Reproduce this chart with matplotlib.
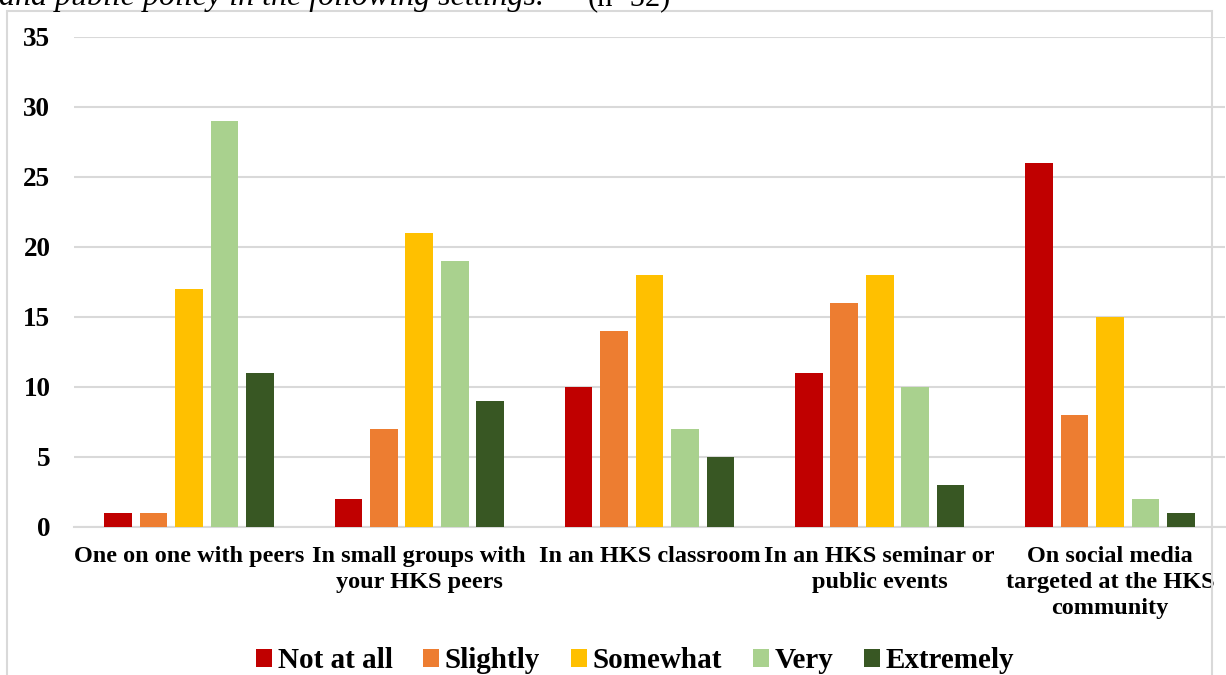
import numpy as np
import matplotlib
matplotlib.use('Agg')
import matplotlib.pyplot as plt
from matplotlib.patches import Rectangle

plt.rcParams['font.family'] = ['Liberation Serif', 'DejaVu Serif']

settings = ['One on one with peers',
            'In small groups with\nyour HKS peers',
            'In an HKS classroom',
            'In an HKS seminar or\npublic events',
            'On social media\ntargeted at the HKS\ncommunity']
levels = ['Not at all', 'Slightly', 'Somewhat', 'Very', 'Extremely']
not_at_all = [1, 2, 10, 11, 26]
slightly = [1, 7, 14, 16, 8]
somewhat = [17, 21, 18, 18, 15]
very = [29, 19, 7, 10, 2]
extremely = [11, 9, 5, 3, 1]
series = [not_at_all, slightly, somewhat, very, extremely]
colors = ['#C00000', '#ED7D31', '#FFC000', '#A9D18E', '#385723']
yticks = [0, 5, 10, 15, 20, 25, 30, 35]

W, H = 1226, 675
fig = plt.figure(figsize=(W / 100, H / 100), dpi=100)
ax = fig.add_axes([74 / W, 1 - 527 / H, (1225 - 74) / W, (527 - 37) / H])

x = np.arange(len(settings))
step = 0.154
width = 0.12
for i, (vals, lab, col) in enumerate(zip(series, levels, colors)):
    ax.bar(x + (i - 2) * step, vals, width, color=col, label=lab, zorder=3)

ax.set_xlim(-0.5, 4.5)
ax.set_ylim(0, 35)
ax.set_yticks(yticks)
ax.set_xticks(x)
ax.set_xticklabels(settings, fontsize=17.5, fontweight='bold', linespacing=1.3)
ax.tick_params(axis='x', length=0, pad=14)
ax.tick_params(axis='y', length=0, pad=17, labelsize=19.5)
for t in ax.get_yticklabels():
    t.set_fontweight('bold')
ax.grid(axis='y', color='#D9D9D9', linewidth=1.5, zorder=0)
ax.set_axisbelow(True)
for s in ['top', 'right', 'left']:
    ax.spines[s].set_visible(False)
ax.spines['bottom'].set_color('#D9D9D9')
ax.spines['bottom'].set_linewidth(1.5)

# chart border (cut off at the bottom of the page crop)
fig.patches.append(Rectangle((7 / W, -0.05), (1212 - 7) / W, 1.05 - 11 / H,
                             transform=fig.transFigure, fill=False,
                             edgecolor='#D9D9D9', linewidth=1.5, zorder=0))

# caption line above chart, partly cut off
fig.text(562 / W, 1 - 5 / H, 'and public policy in the following settings.\u201d',
         ha='right', va='baseline', fontsize=23, fontstyle='italic')
fig.text(588 / W, 1 - 5 / H, '(n=52)', ha='left', va='baseline', fontsize=22)

ax.legend(loc='center', bbox_to_anchor=(635 / W, 1 - 661 / H),
          bbox_transform=fig.transFigure, ncol=5, frameon=False,
          prop={'size': 21, 'weight': 'bold'}, handlelength=0.55,
          handleheight=0.55, handletextpad=0.2, columnspacing=1.05)

fig.savefig('out.png', dpi=100)
